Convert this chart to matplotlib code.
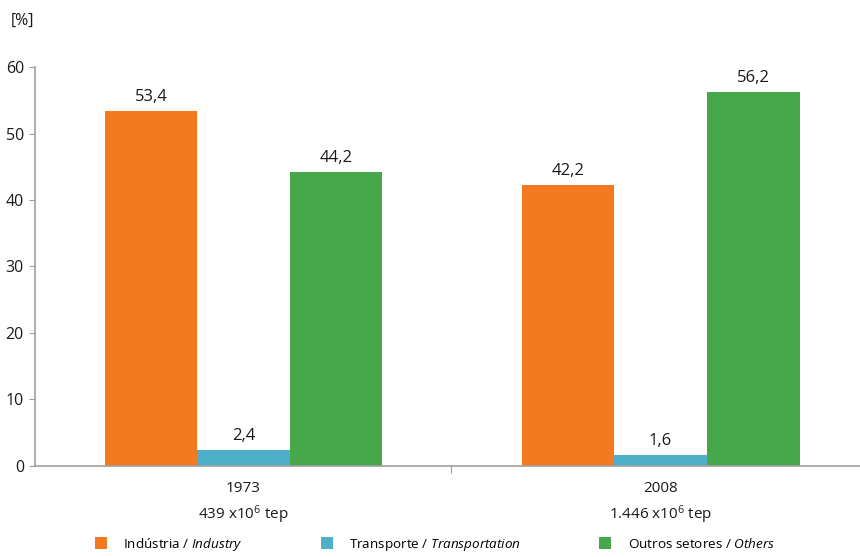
import matplotlib.pyplot as plt
import numpy as np

plt.rcParams['font.family'] = ['Open Sans', 'DejaVu Sans']
plt.rcParams['mathtext.fontset'] = 'custom'
plt.rcParams['mathtext.rm'] = 'Open Sans'
plt.rcParams['mathtext.it'] = 'Open Sans:italic'

# data
years = ['1973\n439 x10$^{6}$ tep', '2008\n1.446 x10$^{6}$ tep']
industria = [53.4, 42.2]
transporte = [2.4, 1.6]
outros = [44.2, 56.2]
labels = ['Indústria / $\\mathit{Industry}$',
          'Transporte / $\\mathit{Transportation}$',
          'Outros setores / $\\mathit{Others}$']
colors = ['#f47a22', '#50afc8', '#47a84b']

fig = plt.figure(figsize=(8.6, 5.57), dpi=100)
ax = fig.add_axes([0.0407, 0.1634, 0.97, 0.7163])

x = np.arange(len(years))
w = 0.222
series = [industria, transporte, outros]
for i, (vals, c, lab) in enumerate(zip(series, colors, labels)):
    bars = ax.bar(x + (i - 1) * w, vals, width=w, color=c, label=lab)
    for b, v in zip(bars, vals):
        ax.text(b.get_x() + b.get_width() / 2, v + 0.9, f'{v:.1f}'.replace('.', ','),
                ha='center', va='bottom', fontsize=12, color='#1a1a1a')

ax.set_xlim(-0.5, 1.5)
ax.set_ylim(0, 60)
ax.set_yticks(range(0, 61, 10))
ax.set_xticks([0.497])
ax.set_xticklabels([])
for i, lab in enumerate(years):
    ax.text(x[i], -2.3, lab, ha='center', va='top', fontsize=11, color='#1a1a1a',
            linespacing=1.45)

for s in ['top', 'right']:
    ax.spines[s].set_visible(False)
for s in ['left', 'bottom']:
    ax.spines[s].set_color('#a0a0a0')
    ax.spines[s].set_linewidth(1.2)
ax.tick_params(axis='y', colors='#a0a0a0', labelcolor='#1a1a1a', labelsize=11.5,
               length=4, pad=4)
ax.tick_params(axis='x', colors='#a0a0a0', length=5)

fig.text(0.012, 0.955, '[%]', fontsize=11.5, color='#1a1a1a')

fig.legend(loc='lower left', bbox_to_anchor=(0.096, -0.014), ncol=3,
           frameon=False, fontsize=9.7, handlelength=0.9, handleheight=0.9,
           columnspacing=5.8, handletextpad=1.2)

fig.savefig('out.png', dpi=100)
